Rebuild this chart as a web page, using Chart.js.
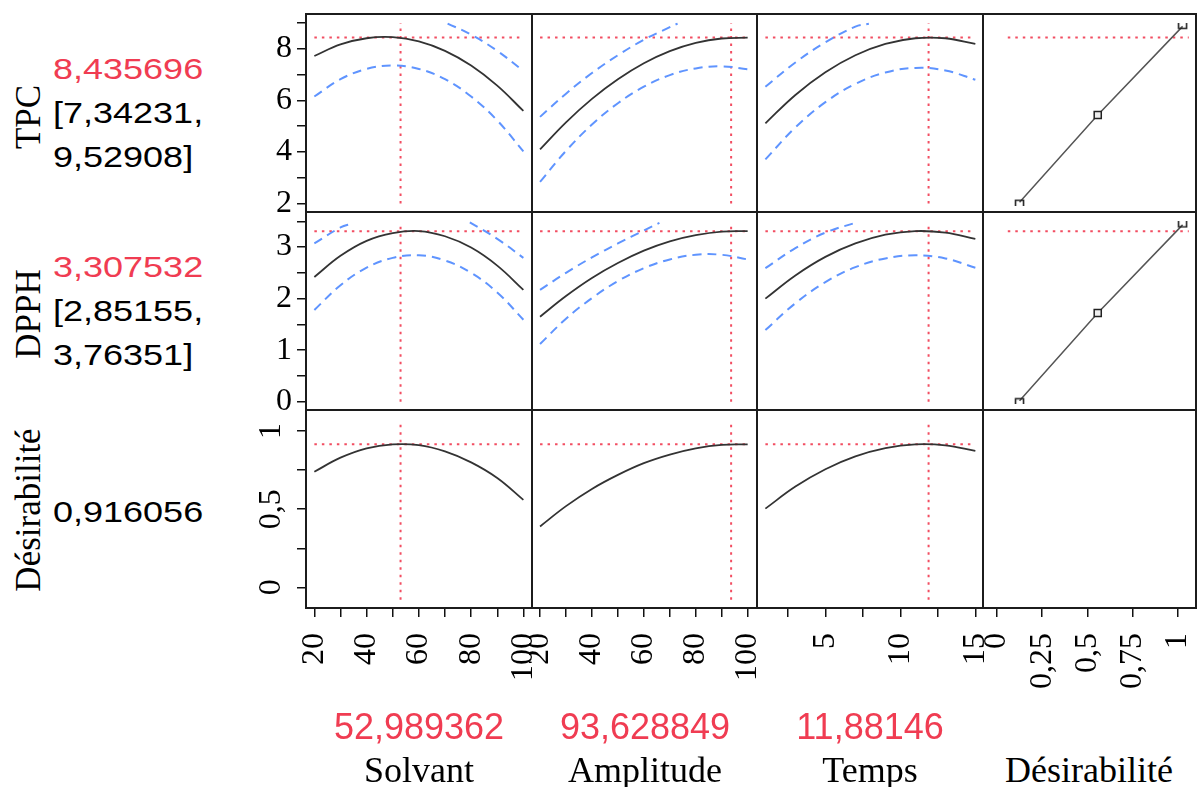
<!DOCTYPE html>
<html>
<head>
<meta charset="utf-8">
<script src="https://cdn.jsdelivr.net/npm/chart.js@4.4.1/dist/chart.umd.min.js"></script>
<style>
body { margin: 0; background: #fff; }
#wrap { position: relative; width: 1197px; height: 787px; overflow: hidden; background: #fff; }
#wrap canvas { position: absolute; }
.t { position: absolute; white-space: nowrap; line-height: 1; color: #000; }
.sans { font-family: "Liberation Sans", Arial, sans-serif; }
.serif { font-family: "Liberation Serif", "Times New Roman", serif; }
.red { color: #f03c52; }
</style>
</head>
<body>
<div id="wrap"></div>
<script>
// profiler settings
var factors = ["Solvant", "Amplitude", "Temps", "Désirabilité"];
var responses = ["TPC", "DPPH", "Désirabilité"];
var settings = [52.989362, 93.628849, 11.88146];
var predicted = [8.435696, 3.307532, 0.916056];
var ciTPC = [7.34231, 9.52908];
var ciDPPH = [2.85155, 3.76351];

var solvant = [20, 30, 40, 50, 60, 70, 80, 90, 100];
var amplitude = [20, 30, 40, 50, 60, 70, 80, 90, 100];
var temps = [1, 3, 5, 7, 9, 11, 13, 15];

// TPC row
var tpcSolvant = [7.72, 8.17, 8.41, 8.45, 8.29, 7.92, 7.35, 6.57, 5.59];
var tpcSolvantLow = [6.15, 6.82, 7.22, 7.35, 7.22, 6.82, 6.15, 5.22, 4.02];
var tpcSolvantHighX = [71, 80, 90, 100];
var tpcSolvantHigh = [8.98, 8.55, 7.92, 7.14];

var tpcAmplitude = [4.10, 5.15, 6.06, 6.82, 7.44, 7.91, 8.23, 8.40, 8.43];
var tpcAmplitudeLow = [2.84, 4.04, 5.06, 5.89, 6.53, 6.98, 7.24, 7.32, 7.21];
var tpcAmplitudeHighX = [20, 30, 40, 50, 60, 70, 73];
var tpcAmplitudeHigh = [5.36, 6.26, 7.06, 7.75, 8.35, 8.84, 8.98];

var tpcTemps = [5.11, 6.21, 7.09, 7.75, 8.19, 8.41, 8.41, 8.19];
var tpcTempsLow = [3.71, 4.95, 5.93, 6.64, 7.08, 7.26, 7.16, 6.80];
var tpcTempsHighX = [1, 3, 5, 7, 7.9];
var tpcTempsHigh = [6.53, 7.47, 8.25, 8.86, 8.97];

// DPPH row
var dpphSolvant = [2.42, 2.83, 3.12, 3.27, 3.31, 3.21, 2.99, 2.64, 2.17];
var dpphSolvantLow = [1.78, 2.26, 2.60, 2.79, 2.84, 2.74, 2.50, 2.12, 1.59];
var dpphSolvantHighX = [20, 30, 34.5, 60, 79.5, 90, 100];
var dpphSolvantHigh = [3.07, 3.38, 3.46, null, 3.48, 3.16, 2.79];

var dpphAmplitude = [1.65, 2.05, 2.40, 2.69, 2.93, 3.11, 3.23, 3.30, 3.31];
var dpphAmplitudeLow = [1.12, 1.61, 2.01, 2.34, 2.59, 2.76, 2.85, 2.85, 2.76];
var dpphAmplitudeHighX = [20, 30, 40, 50, 60, 66];
var dpphAmplitudeHigh = [2.17, 2.50, 2.80, 3.07, 3.32, 3.47];

var dpphTemps = [2.00, 2.45, 2.81, 3.07, 3.24, 3.31, 3.28, 3.16];
var dpphTempsLow = [1.39, 1.91, 2.32, 2.61, 2.78, 2.84, 2.78, 2.60];
var dpphTempsHighX = [1, 3, 5, 7.1];
var dpphTempsHigh = [2.59, 2.98, 3.28, 3.48];

// desirability row
var desSolvant = [0.74, 0.83, 0.89, 0.915, 0.91, 0.87, 0.80, 0.70, 0.56];
var desAmplitude = [0.39, 0.52, 0.63, 0.72, 0.795, 0.85, 0.89, 0.912, 0.915];
var desTemps = [0.504, 0.645, 0.756, 0.838, 0.891, 0.915, 0.909, 0.874];

// desirability functions (last column)
var desirTPCd = [0.125, 0.557, 1.026];
var desirTPC = [2.05, 5.43, 8.87];
var desirDPPHd = [0.125, 0.557, 1.026];
var desirDPPH = [0.02, 1.72, 3.43];

// axes
var xRanges = [[16.8, 103.3], [16.9, 103.6], [0.44, 15.51], [-0.077, 1.1]];
var yRanges = [[1.67, 9.35], [-0.16, 3.68], [-0.132, 1.135]];
var xTicks = [[20, 30, 40, 50, 60, 70, 80, 90, 100], [20, 30, 40, 50, 60, 70, 80, 90, 100], [2.5, 5, 7.5, 10, 12.5, 15], [0, 0.25, 0.5, 0.75, 1]];
var xTickLabels = [[20, 40, 60, 80, 100], [20, 40, 60, 80, 100], [5, 10, 15], [0, 0.25, 0.5, 0.75, 1]];
var yTicks = [[2, 3, 4, 5, 6, 7, 8, 9], [0, 0.5, 1, 1.5, 2, 2.5, 3, 3.5], [0, 0.25, 0.5, 0.75, 1]];
var yTickLabels = [[2, 4, 6, 8], [0, 1, 2, 3], [0, 0.5, 1]];
var xLimits = [[20, 100], [20, 100], [1, 15], [0.06, 1.06]];
var yLimits = [[2, 9], [0, 3.47], [-0.08, 1.06]];

var colEdges = [306, 532, 757, 983, 1196];
var rowEdges = [14, 212, 410, 608];

var wrap = document.getElementById("wrap");
var P = 3;
var serifFont = "'Liberation Serif', 'Times New Roman', serif";

function fmt(v) { return String(v).replace(".", ","); }
function pts(xs, ys) { return xs.map(function (x, i) { return {x: x, y: ys[i]}; }); }

function solid(xs, ys) {
    return {data: pts(xs, ys), borderColor: "#333", borderWidth: 1.8, pointRadius: 0, tension: 0.4};
}
function dashed(xs, ys) {
    return {data: pts(xs, ys), borderColor: "rgb(95,148,255)", borderWidth: 2, borderDash: [9, 6], pointRadius: 0, tension: 0.4};
}
function refLine(xs, ys) {
    return {data: pts(xs, ys), borderColor: "rgb(242,78,98)", borderWidth: 2, borderDash: [2.5, 5], pointRadius: 0, tension: 0};
}

function bracket(openTop) {
    var c = document.createElement("canvas");
    c.width = 11; c.height = 7;
    var g = c.getContext("2d");
    g.strokeStyle = "#222"; g.lineWidth = 1.6;
    g.beginPath();
    if (openTop) { g.moveTo(1.5, 0); g.lineTo(1.5, 5.5); g.lineTo(9.5, 5.5); g.lineTo(9.5, 0); }
    else { g.moveTo(1.5, 7); g.lineTo(1.5, 1.5); g.lineTo(9.5, 1.5); g.lineTo(9.5, 7); }
    g.stroke();
    return c;
}
var lowHandle = bracket(false);
var highHandle = bracket(true);

function desirLine(xs, ys) {
    return {
        data: pts(xs, ys), borderColor: "#555", borderWidth: 1.5, tension: 0,
        pointStyle: [lowHandle, "rect", highHandle], pointRadius: [5, 5, 5],
        pointBorderColor: "#222", pointBorderWidth: 1.5, pointBackgroundColor: "#eee"
    };
}

var frame = {
    id: "frame",
    afterDraw: function (chart) {
        var a = chart.chartArea, ctx = chart.ctx;
        ctx.save();
        ctx.strokeStyle = "#1c1c1c";
        ctx.lineWidth = 2;
        ctx.strokeRect(a.left, a.top, a.right - a.left, a.bottom - a.top);
        ctx.restore();
    }
};

function noPad(s) { s.paddingLeft = 0; s.paddingRight = 0; s.paddingTop = 0; s.paddingBottom = 0; }

function panel(row, col, datasets) {
    var L = col === 0 ? 66 : 0;
    var B = row === 2 ? 100 : 0;
    var R = row === 2 ? 18 : P;
    var x0 = colEdges[col], x1 = colEdges[col + 1], y0 = rowEdges[row], y1 = rowEdges[row + 1];
    var c = document.createElement("canvas");
    c.width = x1 - x0 + L + P + R;
    c.height = y1 - y0 + 2 * P + B;
    c.style.left = (x0 - L - P) + "px";
    c.style.top = (y0 - P) + "px";
    wrap.appendChild(c);

    var tickGrid = {drawOnChartArea: false, drawTicks: true, tickLength: 9, color: "#111", lineWidth: 1.5};

    var xs = {
        type: "linear", min: xRanges[col][0], max: xRanges[col][1], display: row === 2,
        afterBuildTicks: function (s) { s.ticks = xTicks[col].map(function (v) { return {value: v}; }); },
        afterFit: function (s) { s.height = B; noPad(s); },
        grid: tickGrid, border: {display: false},
        ticks: {
            autoSkip: false, minRotation: 90, maxRotation: 90, padding: 16, color: "#000",
            font: {family: serifFont, size: 32, lineHeight: 0.1},
            callback: function (v) { return xTickLabels[col].indexOf(v) >= 0 ? fmt(v) : ""; }
        }
    };

    var ys = {
        type: "linear", min: yRanges[row][0], max: yRanges[row][1], display: col === 0,
        afterBuildTicks: function (s) { s.ticks = yTicks[row].map(function (v) { return {value: v}; }); },
        afterFit: function (s) { s.width = L; noPad(s); },
        grid: tickGrid, border: {display: false},
        ticks: {
            autoSkip: false, padding: 5, color: "#000",
            minRotation: row === 2 ? 90 : 0, maxRotation: row === 2 ? 90 : 0,
            crossAlign: row === 2 ? "center" : "near",
            font: {family: serifFont, size: 32, lineHeight: 1},
            callback: function (v) { return yTickLabels[row].indexOf(v) >= 0 ? fmt(v) : ""; }
        }
    };

    new Chart(c, {
        type: "line",
        data: {datasets: datasets},
        options: {
            responsive: false, animation: false, events: [],
            layout: {autoPadding: false, padding: {left: P, top: P, right: R, bottom: P}},
            plugins: {legend: {display: false}, tooltip: {enabled: false}, title: {display: false}},
            scales: {x: xs, y: ys}
        },
        plugins: [frame]
    });
}

function refs(row, col) {
    var out = [refLine(xLimits[col], [predicted[row], predicted[row]])];
    if (col < 3) out.push(refLine([settings[col], settings[col]], yLimits[row]));
    return out;
}

// TPC
panel(0, 0, [solid(solvant, tpcSolvant), dashed(solvant, tpcSolvantLow), dashed(tpcSolvantHighX, tpcSolvantHigh)].concat(refs(0, 0)));
panel(0, 1, [solid(amplitude, tpcAmplitude), dashed(amplitude, tpcAmplitudeLow), dashed(tpcAmplitudeHighX, tpcAmplitudeHigh)].concat(refs(0, 1)));
panel(0, 2, [solid(temps, tpcTemps), dashed(temps, tpcTempsLow), dashed(tpcTempsHighX, tpcTempsHigh)].concat(refs(0, 2)));
panel(0, 3, [desirLine(desirTPCd, desirTPC)].concat(refs(0, 3)));
// DPPH
panel(1, 0, [solid(solvant, dpphSolvant), dashed(solvant, dpphSolvantLow), dashed(dpphSolvantHighX, dpphSolvantHigh)].concat(refs(1, 0)));
panel(1, 1, [solid(amplitude, dpphAmplitude), dashed(amplitude, dpphAmplitudeLow), dashed(dpphAmplitudeHighX, dpphAmplitudeHigh)].concat(refs(1, 1)));
panel(1, 2, [solid(temps, dpphTemps), dashed(temps, dpphTempsLow), dashed(dpphTempsHighX, dpphTempsHigh)].concat(refs(1, 2)));
panel(1, 3, [desirLine(desirDPPHd, desirDPPH)].concat(refs(1, 3)));
// Désirabilité
panel(2, 0, [solid(solvant, desSolvant)].concat(refs(2, 0)));
panel(2, 1, [solid(amplitude, desAmplitude)].concat(refs(2, 1)));
panel(2, 2, [solid(temps, desTemps)].concat(refs(2, 2)));
panel(2, 3, []);

// texts
function text(str, cls, x, y, size, transform) {
    var d = document.createElement("div");
    d.className = "t " + cls;
    d.textContent = str;
    d.style.left = x + "px";
    d.style.top = y + "px";
    d.style.fontSize = size + "px";
    if (transform) d.style.transform = transform;
    wrap.appendChild(d);
    return d;
}
var rot = "translate(-50%,-50%) rotate(-90deg)";
var wide = "scaleX(1.2)";
text(responses[0], "serif", 28, 117, 35, rot);
text(responses[1], "serif", 28, 314, 35, rot);
text(responses[2], "serif", 28, 510, 35, rot);

var leftTop = [54, 252];
var ci = [ciTPC, ciDPPH];
for (var r = 0; r < 2; r++) {
    var a = text(fmt(predicted[r]), "sans red", 53, leftTop[r], 30, wide);
    var b = text("[" + fmt(ci[r][0]) + ",", "sans", 53, leftTop[r] + 44, 30, wide);
    var e = text(fmt(ci[r][1]) + "]", "sans", 53, leftTop[r] + 88, 30, wide);
    a.style.transformOrigin = b.style.transformOrigin = e.style.transformOrigin = "left top";
}
var dd = text(fmt(predicted[2]), "sans", 53, 497, 30, wide);
dd.style.transformOrigin = "left top";

var colCenters = [419, 645, 870, 1089];
for (var k = 0; k < 4; k++) {
    if (k < 3) text(fmt(settings[k]), "sans red", colCenters[k], 709, 36, "translateX(-50%)");
    text(factors[k], "serif", colCenters[k], 752, 36, "translateX(-50%)");
}
</script>
</body>
</html>
